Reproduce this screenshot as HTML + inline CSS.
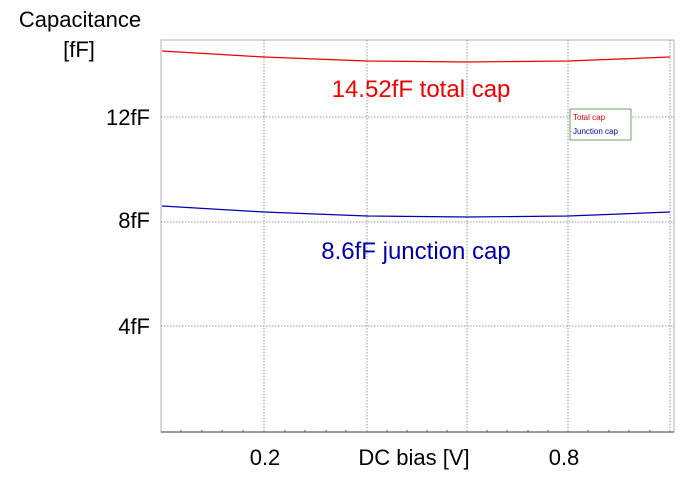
<!DOCTYPE html>
<html><head><style>body{margin:0;background:#fff}svg{display:block}</style></head><body>
<svg width="699" height="482" xmlns="http://www.w3.org/2000/svg" font-family="Liberation Sans, sans-serif">
<rect width="699" height="482" fill="#fff"/>
<rect x="161" y="40" width="513" height="392" fill="none" stroke="#ccc" stroke-width="1.5"/>
<g stroke="#999" stroke-dasharray="1.5,1.5" stroke-width="1">
<line x1="264" y1="40" x2="264" y2="432"/><line x1="367" y1="40" x2="367" y2="432"/>
<line x1="467" y1="40" x2="467" y2="432"/><line x1="568" y1="40" x2="568" y2="432"/>
<line x1="670" y1="40" x2="670" y2="432"/>
<line x1="161" y1="117" x2="674" y2="117"/><line x1="161" y1="222" x2="674" y2="222"/>
<line x1="161" y1="326" x2="674" y2="326"/>
</g>
<line x1="161" y1="432" x2="674" y2="432" stroke="#555" stroke-width="1"/>
<g stroke="#555" stroke-width="1">
<line x1="181" y1="432" x2="181" y2="430"/><line x1="202" y1="432" x2="202" y2="430"/><line x1="222" y1="432" x2="222" y2="430"/><line x1="243" y1="432" x2="243" y2="430"/>
<line x1="285" y1="432" x2="285" y2="430"/><line x1="305" y1="432" x2="305" y2="430"/><line x1="326" y1="432" x2="326" y2="430"/><line x1="346" y1="432" x2="346" y2="430"/>
<line x1="387" y1="432" x2="387" y2="430"/><line x1="407" y1="432" x2="407" y2="430"/><line x1="427" y1="432" x2="427" y2="430"/><line x1="447" y1="432" x2="447" y2="430"/>
<line x1="487" y1="432" x2="487" y2="430"/><line x1="507" y1="432" x2="507" y2="430"/><line x1="528" y1="432" x2="528" y2="430"/><line x1="548" y1="432" x2="548" y2="430"/>
<line x1="588" y1="432" x2="588" y2="430"/><line x1="609" y1="432" x2="609" y2="430"/><line x1="629" y1="432" x2="629" y2="430"/><line x1="650" y1="432" x2="650" y2="430"/>
</g>
<polyline points="162,51 264,57 367,61 467,62 568,61 620,59 670,57" fill="none" stroke="#e00" stroke-width="1.2"/>
<polyline points="162,206 264,212 367,216 467,217 568,216 620,214 670,212" fill="none" stroke="#00a" stroke-width="1.2"/>
<rect x="570" y="109" width="61" height="31" fill="#fff" stroke="#4a8a4a" stroke-width="0.8"/>
<text x="573" y="120" font-size="8" fill="#e00">Total cap</text>
<text x="573" y="134" font-size="8" fill="#00a">Junction cap</text>
<text x="421" y="97" font-size="24" fill="#e00" text-anchor="middle">14.52fF total cap</text>
<text x="416" y="259" font-size="24" fill="#00a" text-anchor="middle">8.6fF junction cap</text>
<g font-size="22" fill="#000">
<text x="80" y="27" text-anchor="middle">Capacitance</text>
<text x="79" y="57" text-anchor="middle">[fF]</text>
<text x="150" y="125" text-anchor="end">12fF</text>
<text x="150" y="228" text-anchor="end">8fF</text>
<text x="150" y="334" text-anchor="end">4fF</text>
<text x="265" y="465" text-anchor="middle">0.2</text>
<text x="414" y="465" text-anchor="middle">DC bias [V]</text>
<text x="564" y="465" text-anchor="middle">0.8</text>
</g>
</svg>
</body></html>
